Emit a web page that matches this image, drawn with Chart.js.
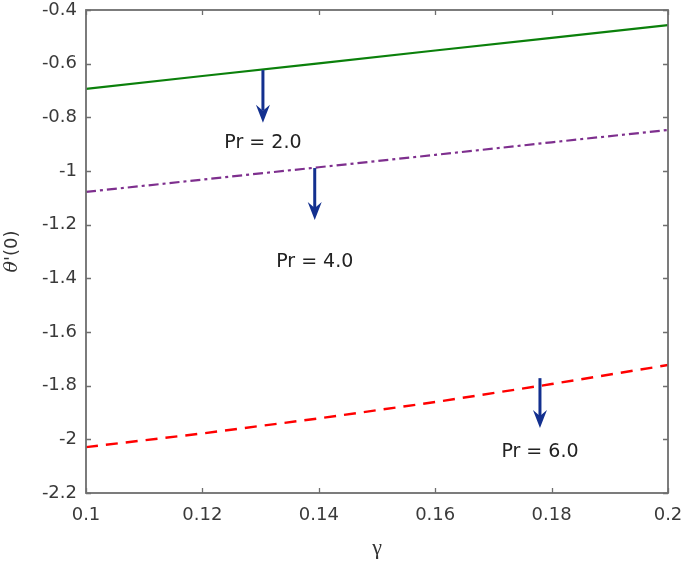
<!DOCTYPE html>
<html>
<head>
<meta charset="utf-8">
<script src="https://cdn.jsdelivr.net/npm/chart.js@4.4.0/dist/chart.umd.min.js"></script>
<style>
  html, body { margin: 0; padding: 0; background: #fff; }
  #wrap { width: 685px; height: 563px; }
</style>
</head>
<body>
<div id="wrap"><canvas id="myChart"></canvas></div>
<script>
// gamma values along x
const gammaVals = [0.1, 0.12, 0.14, 0.16, 0.18, 0.2];
// theta'(0) for each Prandtl number
const pr2 = [-0.694, -0.646, -0.599, -0.551, -0.504, -0.456];
const pr4 = [-1.078, -1.032, -0.986, -0.940, -0.893, -0.847];
const pr6 = [-2.029, -1.978, -1.922, -1.861, -1.794, -1.723];
const xTicks = [0.1, 0.12, 0.14, 0.16, 0.18, 0.2];
const yTicks = [-2.2, -2, -1.8, -1.6, -1.4, -1.2, -1, -0.8, -0.6, -0.4];

// arrows + labels, in data units
const notes = [
    { text: 'Pr = 2.0', x: 0.1304, from: -0.624, to: -0.82, labelY: -0.896 },
    { text: 'Pr = 4.0', x: 0.1393, from: -0.989, to: -1.183, labelY: -1.339 },
    { text: 'Pr = 6.0', x: 0.178, from: -1.772, to: -1.958, labelY: -2.047 }
];

const FONT = '"DejaVu Sans", Verdana, sans-serif';

function toPoints(ys) {
    return gammaVals.map(function (g, i) { return { x: g, y: ys[i] }; });
}

const boxPlugin = {
    id: 'box',
    afterDraw(chart) {
        const ctx = chart.ctx;
        const a = chart.chartArea;
        const xs = chart.scales.x, ys = chart.scales.y;
        ctx.save();
        // inner ticks on all four sides
        ctx.strokeStyle = '#6e6e6e';
        ctx.lineWidth = 1.3;
        ctx.beginPath();
        xTicks.forEach(function (v) {
            const px = Math.round(xs.getPixelForValue(v)) + 0.5;
            ctx.moveTo(px, a.bottom); ctx.lineTo(px, a.bottom - 5);
            ctx.moveTo(px, a.top); ctx.lineTo(px, a.top + 5);
        });
        yTicks.forEach(function (v) {
            const py = Math.round(ys.getPixelForValue(v)) + 0.5;
            ctx.moveTo(a.left, py); ctx.lineTo(a.left + 5, py);
            ctx.moveTo(a.right, py); ctx.lineTo(a.right - 5, py);
        });
        ctx.stroke();
        ctx.lineWidth = 1.8;
        ctx.strokeRect(a.left, a.top, a.right - a.left, a.bottom - a.top);

        // arrows and labels
        notes.forEach(function (n) {
            const px = xs.getPixelForValue(n.x);
            const y0 = ys.getPixelForValue(n.from);
            const y1 = ys.getPixelForValue(n.to);
            ctx.strokeStyle = '#13308f';
            ctx.fillStyle = '#13308f';
            ctx.lineWidth = 3;
            ctx.beginPath();
            ctx.moveTo(px, y0);
            ctx.lineTo(px, y1 - 12);
            ctx.stroke();
            ctx.beginPath();
            ctx.moveTo(px - 7, y1 - 18);
            ctx.lineTo(px, y1 - 12);
            ctx.lineTo(px + 7, y1 - 18);
            ctx.lineTo(px, y1);
            ctx.closePath();
            ctx.fill();
            ctx.fillStyle = '#222';
            ctx.font = '19px ' + FONT;
            ctx.textAlign = 'center';
            ctx.textBaseline = 'middle';
            ctx.fillText(n.text, px, ys.getPixelForValue(n.labelY));
        });

        // y title: theta'(0)
        ctx.translate(12, (a.top + a.bottom) / 2);
        ctx.rotate(-Math.PI / 2);
        ctx.fillStyle = '#333';
        ctx.textBaseline = 'middle';
        const f1 = 'italic 19px "DejaVu Serif", serif';
        const f2 = '18px ' + FONT;
        ctx.font = f1;
        const t1 = '\u03B8';
        const w1 = ctx.measureText(t1).width;
        ctx.font = f2;
        const t2 = '\'(0)';
        const w2 = ctx.measureText(t2).width;
        const start = -(w1 + w2) / 2;
        ctx.textAlign = 'left';
        ctx.font = f1;
        ctx.fillText(t1, start, 0);
        ctx.font = f2;
        ctx.fillText(t2, start + w1, 0);
        ctx.restore();
    }
};

var ctx = document.getElementById('myChart');
var myChart = new Chart(ctx, {
    type: 'line',
    data: {
        datasets: [{
            label: 'Pr = 2.0',
            data: toPoints(pr2),
            borderColor: '#0b800b',
            borderWidth: 2.2,
            pointRadius: 0,
            fill: false
        }, {
            label: 'Pr = 4.0',
            data: toPoints(pr4),
            borderColor: '#7e2f8e',
            borderWidth: 2.2,
            borderDash: [10, 4, 3, 4],
            pointRadius: 0,
            fill: false
        }, {
            label: 'Pr = 6.0',
            data: toPoints(pr6),
            borderColor: '#ff0000',
            borderWidth: 2.4,
            borderDash: [12, 8],
            pointRadius: 0,
            fill: false
        }]
    },
    options: {
        responsive: true,
        maintainAspectRatio: false,
        animation: false,
        layout: { padding: { top: 10, right: 17, left: 0, bottom: 0 } },
        plugins: {
            legend: { display: false },
            tooltip: { enabled: false }
        },
        scales: {
            x: {
                type: 'linear',
                min: 0.1,
                max: 0.2,
                afterFit: function (s) {
                    s.height = 70;
                    s.paddingLeft = 0;
                    s.paddingRight = 0;
                },
                afterBuildTicks: function (s) {
                    s.ticks = xTicks.map(function (v) { return { value: v }; });
                },
                grid: { display: false, drawTicks: false },
                border: { display: false },
                ticks: {
                    color: '#3a3a3a',
                    padding: 12,
                    maxRotation: 0,
                    font: { family: FONT, size: 18 },
                    callback: function (v) { return parseFloat(v.toFixed(2)).toString(); }
                },
                title: {
                    display: true,
                    text: '\u03B3',
                    color: '#333',
                    padding: { top: 0, bottom: 2 },
                    font: { family: '"Liberation Serif", serif', size: 22 }
                }
            },
            y: {
                min: -2.2,
                max: -0.4,
                afterFit: function (s) {
                    s.width = 86;
                    s.paddingTop = 0;
                    s.paddingBottom = 0;
                },
                afterBuildTicks: function (s) {
                    s.ticks = yTicks.map(function (v) { return { value: v }; });
                },
                grid: { display: false, drawTicks: false },
                border: { display: false },
                ticks: {
                    color: '#3a3a3a',
                    padding: 9,
                    font: { family: FONT, size: 18 },
                    callback: function (v) { return parseFloat(v.toFixed(1)).toString(); }
                }
            }
        }
    },
    plugins: [boxPlugin]
});
</script>
</body>
</html>
